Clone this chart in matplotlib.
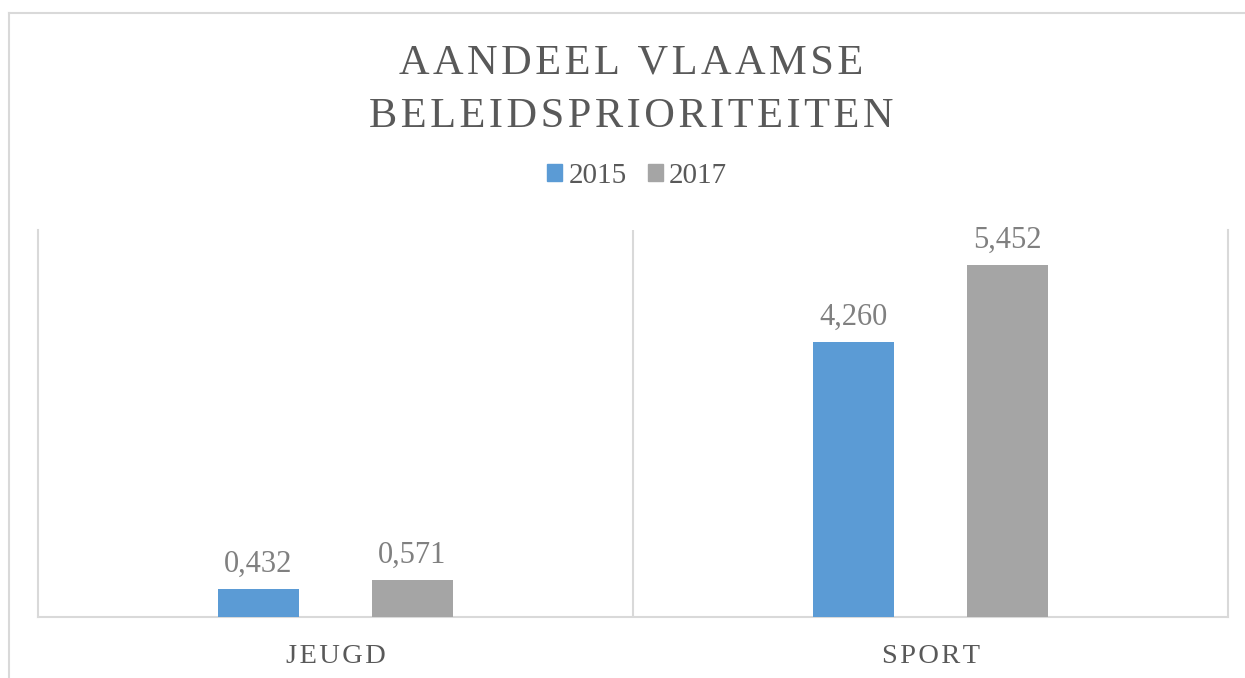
import numpy as np
import matplotlib
matplotlib.use("Agg")
import matplotlib.pyplot as plt
from matplotlib.patches import Patch
from matplotlib.lines import Line2D

# data
categories = ["JEUGD", "SPORT"]
years = ["2015", "2017"]
values_2015 = [0.432, 4.260]
values_2017 = [0.571, 5.452]

blue = "#5B9BD5"
grey = "#A5A5A5"
txt_dark = "#595959"
txt_light = "#808080"
line_col = "#D9D9D9"

SERIF = ["Liberation Serif", "DejaVu Serif"]
HAIR = "\u200a"


def spaced(s):
    # rough letter spacing like the office chart
    return HAIR.join(s)


W, H = 1245, 678
fig = plt.figure(figsize=(W / 100, H / 100), dpi=100)
ax = fig.add_axes([38 / W, 61 / H, (1228 - 38) / W, (617 - 230) / H])

x = np.arange(len(categories)) + 0.5
bw = 81 / 595
off = 77 / 595

b1 = ax.bar(x - off, values_2015, bw, color=blue, label=years[0], zorder=3)
b2 = ax.bar(x + off, values_2017, bw, color=grey, label=years[1], zorder=3)

for bars, vals in ((b1, values_2015), (b2, values_2017)):
    ax.bar_label(bars, labels=[f"{v:.3f}".replace(".", ",") for v in vals],
                 padding=7.5, fontsize=22, color=txt_light, family=SERIF)

ax.set_xlim(0, 2)
ax.set_ylim(0, 6)
ax.set_yticks([])
ax.set_xticks([1.0])
ax.tick_params(axis="x", length=0, labelbottom=False)
ax.grid(axis="x", color=line_col, linewidth=1.5, zorder=0)
ax.spines["top"].set_visible(False)
for sp in ["left", "right", "bottom"]:
    ax.spines[sp].set_color(line_col)
    ax.spines[sp].set_linewidth(1.5)

# category labels
for xi, cat in zip(x, categories):
    ax.text(xi, -(663 - 617) / 387, spaced(cat), transform=ax.get_xaxis_transform(),
            ha="center", va="baseline", fontsize=20.5, color=txt_dark, family=SERIF)

# title
fig.text(631 / W, 1 - 74 / H, spaced("AANDEEL VLAAMSE"), ha="center", va="baseline",
         fontsize=30.5, color=txt_dark, family=SERIF)
fig.text(631 / W, 1 - 127 / H, spaced("BELEIDSPRIORITEITEN"), ha="center", va="baseline",
         fontsize=30.5, color=txt_dark, family=SERIF)

# legend
handles = [Patch(color=blue), Patch(color=grey)]
fig.legend(handles, years, loc="center", bbox_to_anchor=(637 / W, 1 - 176 / H),
           ncol=2, frameon=False, handlelength=0.52, handleheight=0.52,
           handletextpad=0.22, columnspacing=0.72, borderaxespad=0,
           prop={"family": SERIF, "size": 21}, labelcolor=txt_dark)

# outer chart border (cropped at right/bottom)
fig.add_artist(Line2D([9 / W, 1.0], [1 - 13 / H, 1 - 13 / H], color=line_col, lw=1.5))
fig.add_artist(Line2D([9 / W, 9 / W], [0.0, 1 - 13 / H], color=line_col, lw=1.5))

fig.savefig("out.png", dpi=100)
